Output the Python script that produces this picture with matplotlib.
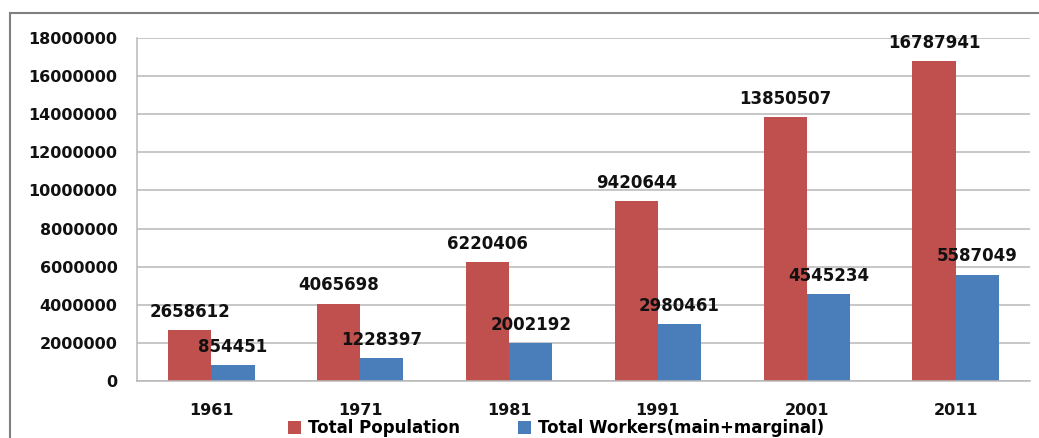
import matplotlib.pyplot as plt
from matplotlib.patches import Rectangle
import numpy as np

years = ["1961", "1971", "1981", "1991", "2001", "2011"]
total_population = [2658612, 4065698, 6220406, 9420644, 13850507, 16787941]
total_workers = [854451, 1228397, 2002192, 2980461, 4545234, 5587049]

red = "#C0504D"
blue = "#4A7EBB"
grid_col = "#B8B8B8"

fig = plt.figure(figsize=(10.39, 4.38), dpi=100)
ax = fig.add_axes([137 / 1039, 57 / 438, 893 / 1039, 343 / 438])

x = np.arange(len(years))
w = 0.29
bars_pop = ax.bar(x - w / 2, total_population, w, color=red, label="Total Population", zorder=2)
bars_work = ax.bar(x + w / 2, total_workers, w, color=blue, label="Total Workers(main+marginal)", zorder=2)

# value labels above each bar
for bars in (bars_pop, bars_work):
    for b in bars:
        v = b.get_height()
        ax.annotate(str(v), (b.get_x() + b.get_width() / 2, v), xytext=(0, 13),
                    textcoords="offset points", ha="center", va="center",
                    fontsize=12, fontweight="bold", color="#111111", zorder=3)

ax.set_xlim(-0.5, len(years) - 0.5)
ax.set_ylim(0, 18000000)
ax.set_yticks(np.arange(0, 18000001, 2000000))
ax.set_yticklabels([str(v) for v in range(0, 18000001, 2000000)])
ax.set_xticks(x)
ax.set_xticklabels(years)
ax.tick_params(axis="y", length=0, pad=14, labelsize=11.5)
ax.tick_params(axis="x", length=0, pad=16, labelsize=11.5)
for lab in ax.get_xticklabels() + ax.get_yticklabels():
    lab.set_fontweight("bold")
    lab.set_color("#111111")

ax.grid(axis="y", color=grid_col, linewidth=1.1, zorder=0)
for side in ("top", "right"):
    ax.spines[side].set_visible(False)
for side in ("left", "bottom"):
    ax.spines[side].set_color(grid_col)
    ax.spines[side].set_linewidth(1.1)

# outer chart border, running off the right and bottom edges
fig.patches.append(Rectangle((10 / 1039, -0.1), 1.2, 1.1 - 13 / 438,
                             transform=fig.transFigure, fill=False,
                             edgecolor="#808080", linewidth=1.5))

leg = fig.legend(handles=[bars_pop, bars_work], loc="center", ncol=2,
                 bbox_to_anchor=(556 / 1039, 10 / 438), frameon=False,
                 prop={"size": 12, "weight": "bold"}, handlelength=0.8,
                 handleheight=0.8, columnspacing=3.5, handletextpad=0.4,
                 borderpad=0.1)

fig.savefig("out.png", dpi=100)
